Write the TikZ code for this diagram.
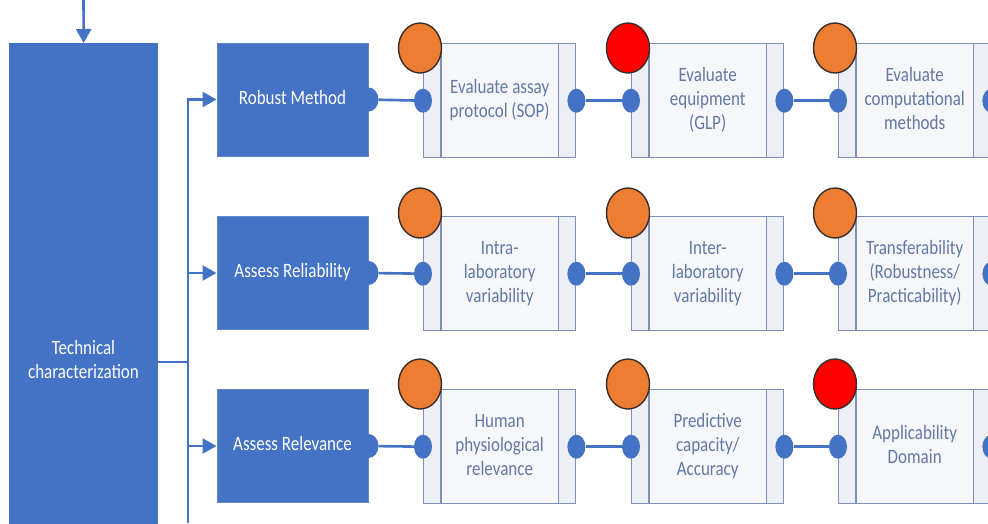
\documentclass[tikz,border=0pt]{standalone}
\usepackage{graphicx}
\usepackage{fontspec}
\setmainfont{Carlito}
\usetikzlibrary{shapes.geometric,arrows.meta}

\definecolor{mainblue}{HTML}{4472C4}
\definecolor{procline}{HTML}{7F8FB8}
\definecolor{proctext}{HTML}{6478A4}
\definecolor{procfill}{HTML}{F5F7FB}
\definecolor{stripfill}{HTML}{ECEFF6}
\definecolor{ratingorange}{HTML}{ED7D31}
\definecolor{ratingred}{HTML}{FF0000}
\definecolor{ringdark}{HTML}{3A2E2A}

% centred multi-line text, slightly stretched vertically
\newcommand{\stretchtxt}[1]{\scalebox{1}[1.2]{\begin{tabular}{@{}c@{}}#1\end{tabular}}}

\tikzset{
  bluebox/.style={fill=mainblue, draw=mainblue!85!white, line width=1pt,
    minimum width=151pt, minimum height=113pt, inner sep=0pt,
    text=white, font=\fontsize{17}{20}\selectfont},
  procbox/.style={draw=procline, fill=procfill, line width=1.4pt,
    minimum width=152pt, minimum height=114pt, inner sep=0pt,
    path picture={
      \fill[stripfill] (path picture bounding box.north west) rectangle
        ([xshift=18pt]path picture bounding box.south west);
      \fill[stripfill] ([xshift=-18pt]path picture bounding box.north east) rectangle
        (path picture bounding box.south east);
    }},
  dot/.style={ellipse, fill=mainblue, minimum width=18pt, minimum height=24pt, inner sep=0pt},
  rating/.style={ellipse, draw=ringdark, line width=1.4pt,
    minimum width=43pt, minimum height=50pt, inner sep=0pt},
  link/.style={draw=mainblue, line width=2.6pt},
  feed/.style={draw=mainblue, line width=2.6pt, -{Triangle[length=14pt,width=15pt]}},
  proclabel/.style={text=proctext, font=\fontsize{17}{20}\selectfont, inner sep=0pt},
}

% name, left x, top y, rating colour, rating vertical offset, label
\newcommand{\procstep}[6]{%
  \node[procbox, anchor=north west] (#1) at (#2,#3) {};
  \draw[procline, line width=1.4pt]
    ([xshift=18pt]#1.north west) -- ([xshift=18pt]#1.south west)
    ([xshift=-18pt]#1.north east) -- ([xshift=-18pt]#1.south east);
  \node[proclabel] (#1-t) at (#1.center) {\stretchtxt{#6}};
  \node[dot] (#1-l) at (#1.west) {};
  \node[dot] (#1-r) at (#1.east) {};
  \node[rating, fill=#4] (#1-c) at ([xshift=-3pt, yshift=#5]#1.north west) {};
}

\begin{document}
\begin{tikzpicture}[x=1pt, y=-1pt]
  \useasboundingbox (0,0) rectangle (988,523);
  \fill[white] (0,0) rectangle (988,523);

  % technical characterization column
  \node[fill=mainblue, minimum width=149pt, minimum height=482pt, inner sep=0pt,
        anchor=north west] (tech) at (9,43) {};
  \node[text=white, font=\fontsize{17}{20}\selectfont, inner sep=0pt] (techtxt)
        at (83.5,362) {\stretchtxt{Technical\\characterization}};
  \coordinate (intop) at (83.5,0);
  \draw[feed] (intop) -- (tech.north);

  % criteria boxes
  \node[bluebox] (robust) at (292.5,99.5) {\stretchtxt{Robust Method}};
  \node[bluebox] (reliab) at (292.5,273) {\stretchtxt{Assess Reliability}};
  \node[bluebox] (relev)  at (292.5,446) {\stretchtxt{Assess Relevance}};
  \node[dot, minimum width=20pt] (robust-d) at (robust.east) {};
  \node[dot, minimum width=20pt] (reliab-d) at (reliab.east) {};
  \node[dot, minimum width=20pt] (relev-d)  at (relev.east) {};

  % trunk with branches
  \coordinate (trunktop) at (188,99.5);
  \coordinate (trunkbot) at (188,523);
  \draw[feed] (trunkbot) -- (trunktop) -- (robust.west);
  \draw[feed] (trunktop |- reliab.west) -- (reliab.west);
  \draw[feed] (trunktop |- relev.west) -- (relev.west);
  \draw[link] (tech.east |- techtxt) -- (trunktop |- techtxt);

  % row 1
  \procstep{p11}{423}{43}{ratingorange}{-5pt}{Evaluate assay\\protocol (SOP)}
  \procstep{p12}{631}{43}{ratingred}{-5pt}{Evaluate\\equipment\\(GLP)}
  \procstep{p13}{838}{43}{ratingorange}{-5pt}{Evaluate\\computational\\methods}
  % row 2
  \procstep{p21}{423}{216}{ratingorange}{3pt}{Intra-\\laboratory\\variability}
  \procstep{p22}{631}{216}{ratingorange}{3pt}{Inter-\\laboratory\\variability}
  \procstep{p23}{838}{216}{ratingorange}{3pt}{Transferability\\(Robustness/\\Practicability)}
  % row 3
  \procstep{p31}{423}{389}{ratingorange}{5pt}{Human\\physiological\\relevance}
  \procstep{p32}{631}{389}{ratingorange}{5pt}{Predictive\\capacity/\\Accuracy}
  \procstep{p33}{838}{389}{ratingred}{5pt}{Applicability\\Domain}

  % chains
  \draw[link] (robust-d) -- (p11-l);
  \draw[link] (p11-r) -- (p12-l);
  \draw[link] (p12-r) -- (p13-l);
  \draw[link] (reliab-d) -- (p21-l);
  \draw[link] (p21-r) -- (p22-l);
  \draw[link] (p22-r) -- (p23-l);
  \draw[link] (relev-d) -- (p31-l);
  \draw[link] (p31-r) -- (p32-l);
  \draw[link] (p32-r) -- (p33-l);
\end{tikzpicture}
\end{document}
